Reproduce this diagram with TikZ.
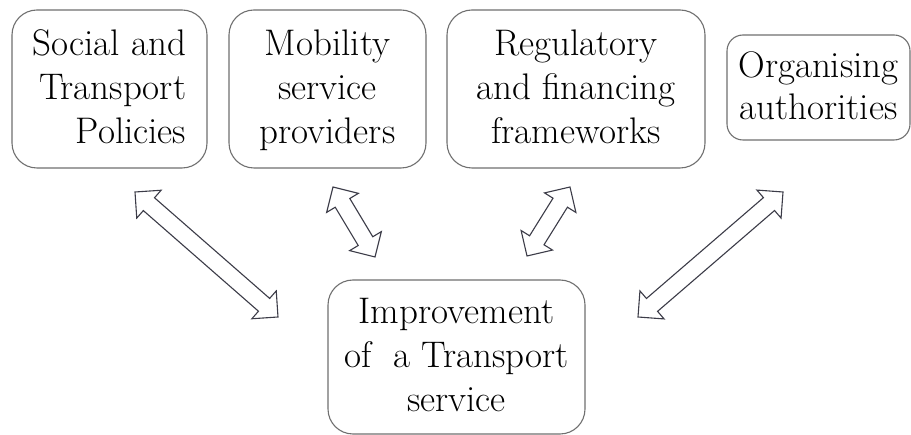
\documentclass[tikz,border=0pt]{standalone}
\usepackage{fontspec}
\usetikzlibrary{calc}
\definecolor{boxline}{HTML}{707070}
\definecolor{arrline}{HTML}{3C3C48}
\newcommand\topst{\rule{0pt}{33pt}}
\newcommand\botst{\rule[-11pt]{0pt}{11pt}}
\tikzset{
  box/.style={draw=boxline, line width=1.1pt, rounded corners=25pt, align=center,
    inner sep=0pt, font=\fontsize{37}{44}\selectfont, text=black},
  twoarrow/.style={draw=arrline, fill=white, line width=1.1pt, line join=miter}
}
\newcommand\twoway[2]{%
  \draw[twoarrow] let \p1=(#1), \p2=(#2),
    \n1={atan2(\y2-\y1,\x2-\x1)}, \n2={veclen(\x2-\x1,\y2-\y1)} in
    [shift={(\p1)}, rotate=\n1]
    (0,0) -- (18.5,18.5) -- (18.5,8.5) -- (\n2-18.5,8.5) -- (\n2-18.5,18.5)
    -- (\n2,0) -- (\n2-18.5,-18.5) -- (\n2-18.5,-8.5) -- (18.5,-8.5)
    -- (18.5,-18.5) -- cycle;}
\begin{document}
\begin{tikzpicture}[x=1pt, y=-1pt]
  \useasboundingbox[fill=white] (0,0) rectangle (911,435);
  % boxes
  \node[box, align=right, minimum width=195pt, minimum height=158pt] (social) at (109.5,89)
    {\topst Social and\\Transport\\Policies\botst};
  \node[box, minimum width=197pt, minimum height=158pt] (mobility) at (327.5,89)
    {\topst Mobility\\service\\providers\botst};
  \node[box, minimum width=258pt, minimum height=158pt] (regul) at (576,89)
    {\topst Regulatory\\and financing\\frameworks\botst};
  \node[box, rounded corners=16pt, font=\fontsize{37}{42}\selectfont,
    minimum width=183pt, minimum height=105pt] (organ) at (818.5,87.5)
    {\topst Organising\\authorities\botst};
  \node[box, minimum width=257pt, minimum height=154pt] (improve) at (456.5,357)
    {\topst Improvement\\of\ \ a Transport\\service\botst};
  % arrow end points
  \coordinate (a1s) at (135,192);  \coordinate (a1e) at (278,317);
  \coordinate (a2s) at (333,187);  \coordinate (a2e) at (375,257);
  \coordinate (a3s) at (570,187);  \coordinate (a3e) at (527,256);
  \coordinate (a4s) at (783,192);  \coordinate (a4e) at (638,317);
  \twoway{a1s}{a1e}
  \twoway{a2s}{a2e}
  \twoway{a3s}{a3e}
  \twoway{a4s}{a4e}
\end{tikzpicture}
\end{document}
